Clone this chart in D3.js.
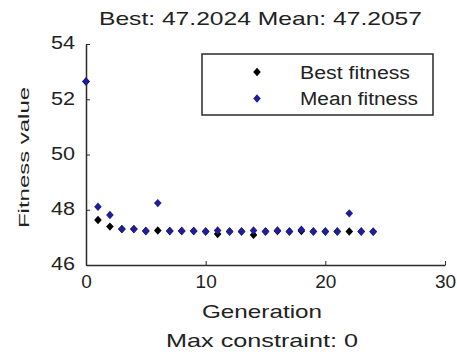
<!DOCTYPE html>
<html>
<head>
<meta charset="utf-8">
<script src="https://cdn.jsdelivr.net/npm/d3@7"></script>
<style>
  body { margin: 0; background: #fff; }
  svg text { font-family: "Liberation Sans", Arial, sans-serif; fill: #222; }
</style>
</head>
<body>
<svg id="chart" width="457" height="354"></svg>
<script>
// generations 0..24
const generations = d3.range(0, 25);
const bestFitness = [52.64, 47.63, 47.39, 47.30, 47.30, 47.23, 47.25, 47.23, 47.23, 47.23,
  47.21, 47.12, 47.21, 47.21, 47.09, 47.21, 47.23, 47.21, 47.23, 47.21,
  47.21, 47.21, 47.21, 47.21, 47.20];
const meanFitness = [52.64, 48.11, 47.81, 47.30, 47.30, 47.23, 48.24, 47.23, 47.23, 47.23,
  47.21, 47.25, 47.21, 47.21, 47.25, 47.21, 47.25, 47.21, 47.28, 47.21,
  47.21, 47.21, 47.87, 47.21, 47.21];
const xTicks = [0, 10, 20, 30];
const yTicks = [46, 48, 50, 52, 54];

const svg = d3.select("#chart");
const margin = { left: 86, right: 12, top: 44, bottom: 89 };
const width = 457, height = 354;

const x = d3.scaleLinear().domain([0, 30]).range([margin.left, width - margin.right]);
const y = d3.scaleLinear().domain([46, 54]).range([height - margin.bottom, margin.top]);

// axes
const xAxis = svg.append("g")
  .attr("transform", `translate(0,${y(46)})`)
  .call(d3.axisBottom(x).tickValues(xTicks).tickSizeInner(-4).tickSizeOuter(0).tickPadding(10));
const yAxis = svg.append("g")
  .attr("transform", `translate(${x(0)},0)`)
  .call(d3.axisLeft(y).tickValues(yTicks).tickSizeInner(-4).tickSizeOuter(0).tickPadding(11));

[xAxis, yAxis].forEach(g => {
  g.select(".domain").attr("stroke", "#2a2a2a").attr("stroke-width", 1.5);
  g.selectAll(".tick line").attr("stroke", "#2a2a2a");
  g.selectAll("text").style("font-size", "19px").attr("fill", "#222");
});
xAxis.selectAll(".tick").filter(d => d === 0).select("line").remove();
yAxis.selectAll("text").attr("dy", "0.25em").attr("textLength", 24).attr("lengthAdjust", "spacingAndGlyphs");

// squat diamond marker like the reference
const diamondType = {
  draw(ctx) {
    ctx.moveTo(0, -4.2); ctx.lineTo(3.8, 0); ctx.lineTo(0, 4.2); ctx.lineTo(-3.8, 0); ctx.closePath();
  }
};
const diamond = d3.symbol().type(diamondType);

svg.append("g").selectAll("path")
  .data(generations)
  .join("path")
  .attr("d", diamond)
  .attr("transform", d => `translate(${x(d)},${y(bestFitness[d])})`)
  .attr("fill", "#000");

svg.append("g").selectAll("path")
  .data(generations)
  .join("path")
  .attr("d", diamond)
  .attr("transform", d => `translate(${x(d)},${y(meanFitness[d])})`)
  .attr("fill", "#1e1e96");

// text helper: stretched to the width measured in the picture
function label(txt, px, py, size, len, anchor) {
  return svg.append("text").attr("x", px).attr("y", py)
    .attr("text-anchor", anchor || "start")
    .style("font-size", size + "px")
    .attr("textLength", len).attr("lengthAdjust", "spacingAndGlyphs")
    .text(txt);
}

// legend
const legend = svg.append("g");
legend.append("rect")
  .attr("x", 202).attr("y", 54).attr("width", 231).attr("height", 61)
  .attr("fill", "#fff").attr("stroke", "#2a2a2a").attr("stroke-width", 1.5);
const legendItems = [
  { label: "Best fitness", color: "#000", len: 110 },
  { label: "Mean fitness", color: "#1e1e96", len: 118 }
];
legendItems.forEach((item, i) => {
  const cy = 72 + i * 26.5;
  legend.append("path").attr("d", diamond)
    .attr("transform", `translate(257,${cy})`).attr("fill", item.color);
  label(item.label, 300, cy + 6.5, 18, item.len);
});

// titles
label("Best: 47.2024 Mean: 47.2057", 99, 25, 19, 323);
label("Generation", 202, 318, 19, 120);
label("Max constraint: 0", 166, 347, 19, 192);
svg.append("text")
  .attr("transform", "translate(29,228) rotate(-90)")
  .style("font-size", "15px")
  .attr("textLength", 141).attr("lengthAdjust", "spacingAndGlyphs")
  .text("Fitness value");
</script>
</body>
</html>
